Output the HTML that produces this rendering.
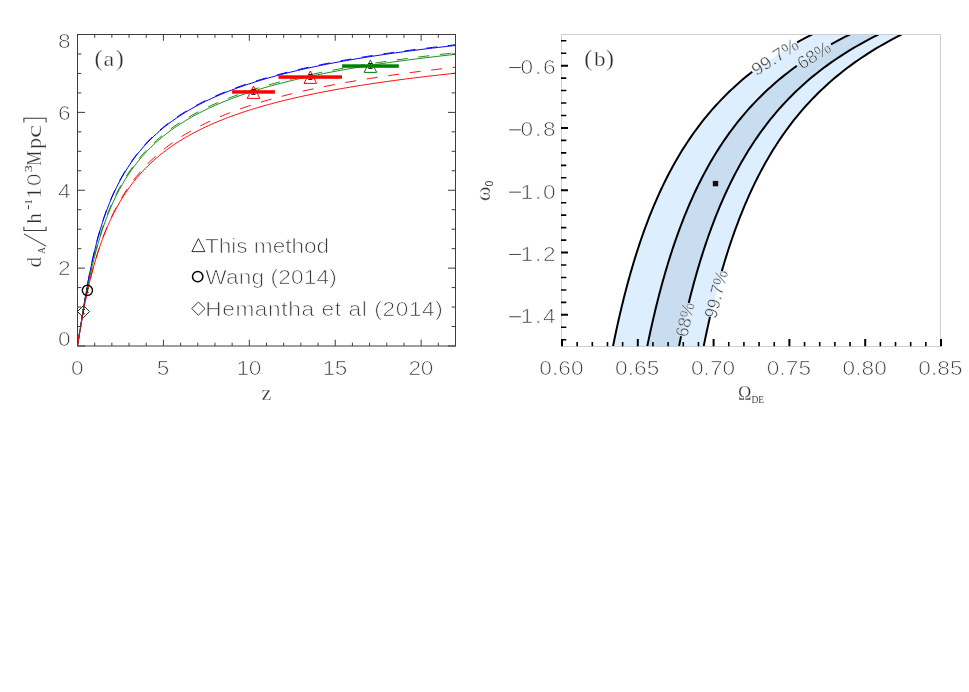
<!DOCTYPE html>
<html><head><meta charset="utf-8"><title>fig</title>
<style>
html,body{margin:0;padding:0;background:#fff;}
body{width:969px;height:692px;overflow:hidden;font-family:"Liberation Sans",sans-serif;}
svg{display:block;will-change:transform;}
.sans{font-family:"Liberation Sans",sans-serif;}
.serif{font-family:"Liberation Serif",serif;}
.tl{font-family:"Liberation Sans",sans-serif;font-size:20.6px;fill:#383838;stroke:#fff;stroke-width:0.7px;}
.sl{font-family:"Liberation Serif",serif;fill:#2e2e2e;stroke:#fff;stroke-width:0.3px;}
.ss{font-family:"Liberation Serif",serif;fill:#444;}
</style></head><body>
<svg width="969" height="692" viewBox="0 0 969 692">
<rect x="0" y="0" width="969" height="692" fill="#fff"/>

<g id="chartA">
<clipPath id="clipA"><rect x="77.50" y="34.50" width="378.00" height="311.50"/></clipPath>
<g clip-path="url(#clipA)" fill="none" stroke-linejoin="round">
<path d="M77.50 345.80 L78.36 340.77 L79.22 335.57 L80.08 330.23 L80.94 324.82 L81.80 319.38 L82.65 313.96 L83.51 308.59 L84.37 303.31 L85.23 298.13 L86.09 293.08 L86.95 288.17 L87.81 283.41 L88.67 278.79 L89.53 274.33 L90.39 270.01 L91.25 265.85 L92.10 261.82 L92.96 257.93 L93.82 254.18 L94.68 250.55 L95.54 247.05 L96.40 243.66 L97.26 240.38 L98.12 237.21 L98.98 234.14 L99.84 231.16 L100.70 228.28 L101.55 225.48 L102.41 222.77 L103.27 220.14 L104.13 217.59 L104.99 215.10 L105.85 212.69 L106.71 210.34 L107.57 208.06 L108.43 205.83 L109.29 203.67 L110.15 201.56 L111.00 199.50 L111.86 197.50 L113.58 193.64 L116.46 187.57 L119.33 181.95 L122.20 176.73 L125.07 171.86 L127.95 167.30 L130.82 163.03 L133.69 159.00 L136.57 155.21 L139.44 151.62 L142.31 148.23 L145.19 145.01 L148.06 141.94 L150.93 139.03 L153.81 136.25 L156.68 133.59 L159.55 131.06 L162.43 128.62 L165.30 126.29 L168.17 124.06 L171.05 121.91 L173.92 119.84 L176.79 117.85 L179.67 115.94 L182.54 114.09 L185.41 112.30 L188.29 110.58 L191.16 108.91 L194.03 107.29 L196.91 105.73 L199.78 104.22 L202.65 102.75 L205.53 101.32 L208.40 99.94 L211.27 98.60 L214.15 97.29 L217.02 96.03 L219.89 94.79 L222.77 93.59 L225.64 92.42 L228.51 91.28 L231.39 90.17 L234.26 89.08 L237.13 88.03 L240.01 87.00 L242.88 85.99 L245.75 85.00 L248.63 84.04 L251.50 83.10 L254.37 82.19 L257.24 81.29 L260.12 80.41 L262.99 79.55 L265.86 78.71 L268.74 77.88 L271.61 77.08 L274.48 76.28 L277.36 75.51 L280.23 74.75 L283.10 74.00 L285.98 73.27 L288.85 72.55 L291.72 71.85 L294.60 71.16 L297.47 70.48 L300.34 69.81 L303.22 69.16 L306.09 68.52 L308.96 67.89 L311.84 67.27 L314.71 66.66 L317.58 66.06 L320.46 65.47 L323.33 64.88 L326.20 64.31 L329.08 63.75 L331.95 63.20 L334.82 62.66 L337.70 62.12 L340.57 61.59 L343.44 61.07 L346.32 60.56 L349.19 60.06 L352.06 59.56 L354.94 59.07 L357.81 58.59 L360.68 58.12 L363.56 57.65 L366.43 57.19 L369.30 56.73 L372.18 56.28 L375.05 55.84 L377.92 55.40 L380.80 54.97 L383.67 54.55 L386.54 54.13 L389.41 53.71 L392.29 53.30 L395.16 52.90 L398.03 52.50 L400.91 52.11 L403.78 51.72 L406.65 51.34 L409.53 50.96 L412.40 50.59 L415.27 50.22 L418.15 49.85 L421.02 49.49 L423.89 49.14 L426.77 48.78 L429.64 48.44 L432.51 48.09 L435.39 47.75 L438.26 47.42 L441.13 47.08 L444.01 46.76 L446.88 46.43 L449.75 46.11 L452.63 45.79 L455.50 45.48" stroke="#0000ff" stroke-width="1.0"/>
<path d="M77.50 345.10 L78.36 340.07 L79.22 334.87 L80.08 329.53 L80.94 324.12 L81.80 318.68 L82.65 313.26 L83.51 307.89 L84.37 302.61 L85.23 297.43 L86.09 292.38 L86.95 287.47 L87.81 282.71 L88.67 278.09 L89.53 273.63 L90.39 269.31 L91.25 265.15 L92.10 261.12 L92.96 257.23 L93.82 253.48 L94.68 249.85 L95.54 246.35 L96.40 242.96 L97.26 239.68 L98.12 236.51 L98.98 233.44 L99.84 230.46 L100.70 227.58 L101.55 224.78 L102.41 222.07 L103.27 219.44 L104.13 216.89 L104.99 214.40 L105.85 211.99 L106.71 209.64 L107.57 207.36 L108.43 205.13 L109.29 202.97 L110.15 200.86 L111.00 198.80 L111.86 196.80 L113.58 192.94 L116.46 186.87 L119.33 181.25 L122.20 176.03 L125.07 171.16 L127.95 166.60 L130.82 162.33 L133.69 158.30 L136.57 154.51 L139.44 150.92 L142.31 147.53 L145.19 144.31 L148.06 141.24 L150.93 138.33 L153.81 135.55 L156.68 132.89 L159.55 130.36 L162.43 127.92 L165.30 125.59 L168.17 123.36 L171.05 121.21 L173.92 119.14 L176.79 117.15 L179.67 115.24 L182.54 113.39 L185.41 111.60 L188.29 109.88 L191.16 108.21 L194.03 106.59 L196.91 105.03 L199.78 103.52 L202.65 102.05 L205.53 100.62 L208.40 99.24 L211.27 97.90 L214.15 96.59 L217.02 95.33 L219.89 94.09 L222.77 92.89 L225.64 91.72 L228.51 90.58 L231.39 89.47 L234.26 88.38 L237.13 87.33 L240.01 86.30 L242.88 85.29 L245.75 84.30 L248.63 83.34 L251.50 82.40 L254.37 81.49 L257.24 80.59 L260.12 79.71 L262.99 78.85 L265.86 78.01 L268.74 77.18 L271.61 76.38 L274.48 75.58 L277.36 74.81 L280.23 74.05 L283.10 73.30 L285.98 72.57 L288.85 71.85 L291.72 71.15 L294.60 70.46 L297.47 69.78 L300.34 69.11 L303.22 68.46 L306.09 67.82 L308.96 67.19 L311.84 66.57 L314.71 65.96 L317.58 65.36 L320.46 64.77 L323.33 64.18 L326.20 63.61 L329.08 63.05 L331.95 62.50 L334.82 61.96 L337.70 61.42 L340.57 60.89 L343.44 60.37 L346.32 59.86 L349.19 59.36 L352.06 58.86 L354.94 58.37 L357.81 57.89 L360.68 57.42 L363.56 56.95 L366.43 56.49 L369.30 56.03 L372.18 55.58 L375.05 55.14 L377.92 54.70 L380.80 54.27 L383.67 53.85 L386.54 53.43 L389.41 53.01 L392.29 52.60 L395.16 52.20 L398.03 51.80 L400.91 51.41 L403.78 51.02 L406.65 50.64 L409.53 50.26 L412.40 49.89 L415.27 49.52 L418.15 49.15 L421.02 48.79 L423.89 48.44 L426.77 48.08 L429.64 47.74 L432.51 47.39 L435.39 47.05 L438.26 46.72 L441.13 46.38 L444.01 46.06 L446.88 45.73 L449.75 45.41 L452.63 45.09 L455.50 44.78" stroke="#0000ff" stroke-width="1.0" stroke-dasharray="11 10.7" stroke-dashoffset="3"/>
<path d="M77.50 345.80 L78.36 340.46 L79.22 335.15 L80.08 329.89 L80.94 324.68 L81.80 319.55 L82.65 314.51 L83.51 309.57 L84.37 304.74 L85.23 300.02 L86.09 295.43 L86.95 290.95 L87.81 286.60 L88.67 282.38 L89.53 278.27 L90.39 274.29 L91.25 270.43 L92.10 266.68 L92.96 263.05 L93.82 259.53 L94.68 256.11 L95.54 252.80 L96.40 249.59 L97.26 246.47 L98.12 243.44 L98.98 240.50 L99.84 237.65 L100.70 234.88 L101.55 232.18 L102.41 229.56 L103.27 227.02 L104.13 224.54 L104.99 222.13 L105.85 219.78 L106.71 217.50 L107.57 215.27 L108.43 213.10 L109.29 210.99 L110.15 208.92 L111.00 206.91 L111.86 204.95 L113.58 201.15 L116.46 195.20 L119.33 189.67 L122.20 184.52 L125.07 179.71 L127.95 175.20 L130.82 170.98 L133.69 166.99 L136.57 163.24 L139.44 159.69 L142.31 156.32 L145.19 153.13 L148.06 150.10 L150.93 147.21 L153.81 144.45 L156.68 141.82 L159.55 139.30 L162.43 136.89 L165.30 134.57 L168.17 132.36 L171.05 130.22 L173.92 128.17 L176.79 126.20 L179.67 124.29 L182.54 122.46 L185.41 120.69 L188.29 118.97 L191.16 117.32 L194.03 115.72 L196.91 114.17 L199.78 112.66 L202.65 111.21 L205.53 109.79 L208.40 108.42 L211.27 107.09 L214.15 105.79 L217.02 104.53 L219.89 103.30 L222.77 102.11 L225.64 100.95 L228.51 99.82 L231.39 98.71 L234.26 97.64 L237.13 96.59 L240.01 95.56 L242.88 94.56 L245.75 93.59 L248.63 92.63 L251.50 91.70 L254.37 90.79 L257.24 89.90 L260.12 89.02 L262.99 88.17 L265.86 87.34 L268.74 86.52 L271.61 85.71 L274.48 84.93 L277.36 84.16 L280.23 83.40 L283.10 82.66 L285.98 81.94 L288.85 81.23 L291.72 80.53 L294.60 79.84 L297.47 79.17 L300.34 78.51 L303.22 77.86 L306.09 77.22 L308.96 76.59 L311.84 75.97 L314.71 75.37 L317.58 74.77 L320.46 74.19 L323.33 73.61 L326.20 73.04 L329.08 72.49 L331.95 71.94 L334.82 71.40 L337.70 70.86 L340.57 70.34 L343.44 69.83 L346.32 69.32 L349.19 68.82 L352.06 68.32 L354.94 67.84 L357.81 67.36 L360.68 66.89 L363.56 66.42 L366.43 65.97 L369.30 65.51 L372.18 65.07 L375.05 64.63 L377.92 64.19 L380.80 63.77 L383.67 63.34 L386.54 62.93 L389.41 62.52 L392.29 62.11 L395.16 61.71 L398.03 61.32 L400.91 60.93 L403.78 60.54 L406.65 60.16 L409.53 59.78 L412.40 59.41 L415.27 59.05 L418.15 58.68 L421.02 58.33 L423.89 57.97 L426.77 57.62 L429.64 57.28 L432.51 56.93 L435.39 56.60 L438.26 56.26 L441.13 55.93 L444.01 55.61 L446.88 55.29 L449.75 54.97 L452.63 54.65 L455.50 54.34" stroke="#008000" stroke-width="0.9"/>
<path d="M77.50 344.20 L78.36 338.86 L79.22 333.55 L80.08 328.29 L80.94 323.08 L81.80 317.95 L82.65 312.91 L83.51 307.97 L84.37 303.14 L85.23 298.42 L86.09 293.83 L86.95 289.35 L87.81 285.00 L88.67 280.78 L89.53 276.67 L90.39 272.69 L91.25 268.83 L92.10 265.08 L92.96 261.45 L93.82 257.93 L94.68 254.51 L95.54 251.20 L96.40 247.99 L97.26 244.87 L98.12 241.84 L98.98 238.90 L99.84 236.05 L100.70 233.28 L101.55 230.58 L102.41 227.96 L103.27 225.42 L104.13 222.94 L104.99 220.53 L105.85 218.18 L106.71 215.90 L107.57 213.67 L108.43 211.50 L109.29 209.39 L110.15 207.32 L111.00 205.31 L111.86 203.35 L113.58 199.55 L116.46 193.60 L119.33 188.07 L122.20 182.92 L125.07 178.11 L127.95 173.60 L130.82 169.38 L133.69 165.39 L136.57 161.64 L139.44 158.09 L142.31 154.72 L145.19 151.53 L148.06 148.50 L150.93 145.61 L153.81 142.85 L156.68 140.22 L159.55 137.70 L162.43 135.29 L165.30 132.97 L168.17 130.76 L171.05 128.62 L173.92 126.57 L176.79 124.60 L179.67 122.69 L182.54 120.86 L185.41 119.09 L188.29 117.37 L191.16 115.72 L194.03 114.12 L196.91 112.57 L199.78 111.06 L202.65 109.61 L205.53 108.19 L208.40 106.82 L211.27 105.49 L214.15 104.19 L217.02 102.93 L219.89 101.70 L222.77 100.51 L225.64 99.35 L228.51 98.22 L231.39 97.11 L234.26 96.04 L237.13 94.99 L240.01 93.96 L242.88 92.96 L245.75 91.99 L248.63 91.03 L251.50 90.10 L254.37 89.19 L257.24 88.30 L260.12 87.42 L262.99 86.57 L265.86 85.74 L268.74 84.92 L271.61 84.11 L274.48 83.33 L277.36 82.56 L280.23 81.80 L283.10 81.06 L285.98 80.34 L288.85 79.63 L291.72 78.93 L294.60 78.24 L297.47 77.57 L300.34 76.91 L303.22 76.26 L306.09 75.62 L308.96 74.99 L311.84 74.37 L314.71 73.77 L317.58 73.17 L320.46 72.59 L323.33 72.01 L326.20 71.44 L329.08 70.89 L331.95 70.34 L334.82 69.80 L337.70 69.26 L340.57 68.74 L343.44 68.23 L346.32 67.72 L349.19 67.22 L352.06 66.72 L354.94 66.24 L357.81 65.76 L360.68 65.29 L363.56 64.82 L366.43 64.37 L369.30 63.91 L372.18 63.47 L375.05 63.03 L377.92 62.59 L380.80 62.17 L383.67 61.74 L386.54 61.33 L389.41 60.92 L392.29 60.51 L395.16 60.11 L398.03 59.72 L400.91 59.33 L403.78 58.94 L406.65 58.56 L409.53 58.18 L412.40 57.81 L415.27 57.45 L418.15 57.08 L421.02 56.73 L423.89 56.37 L426.77 56.02 L429.64 55.68 L432.51 55.33 L435.39 55.00 L438.26 54.66 L441.13 54.33 L444.01 54.01 L446.88 53.69 L449.75 53.37 L452.63 53.05 L455.50 52.74" stroke="#008000" stroke-width="0.9" stroke-dasharray="11 10.7" stroke-dashoffset="19.1"/>
<path d="M77.50 345.80 L78.36 340.18 L79.22 334.76 L80.08 329.53 L80.94 324.48 L81.80 319.60 L82.65 314.89 L83.51 310.34 L84.37 305.94 L85.23 301.69 L86.09 297.58 L86.95 293.60 L87.81 289.75 L88.67 286.02 L89.53 282.41 L90.39 278.90 L91.25 275.51 L92.10 272.22 L92.96 269.03 L93.82 265.93 L94.68 262.92 L95.54 260.00 L96.40 257.16 L97.26 254.40 L98.12 251.71 L98.98 249.10 L99.84 246.56 L100.70 244.09 L101.55 241.68 L102.41 239.33 L103.27 237.05 L104.13 234.82 L104.99 232.65 L105.85 230.52 L106.71 228.46 L107.57 226.44 L108.43 224.46 L109.29 222.54 L110.15 220.65 L111.00 218.81 L111.86 217.02 L113.58 213.54 L116.46 208.05 L119.33 202.92 L122.20 198.14 L125.07 193.65 L127.95 189.43 L130.82 185.46 L133.69 181.71 L136.57 178.16 L139.44 174.80 L142.31 171.61 L145.19 168.58 L148.06 165.69 L150.93 162.93 L153.81 160.30 L156.68 157.79 L159.55 155.38 L162.43 153.07 L165.30 150.85 L168.17 148.72 L171.05 146.68 L173.92 144.71 L176.79 142.81 L179.67 140.98 L182.54 139.21 L185.41 137.51 L188.29 135.86 L191.16 134.26 L194.03 132.71 L196.91 131.22 L199.78 129.77 L202.65 128.36 L205.53 127.00 L208.40 125.67 L211.27 124.38 L214.15 123.13 L217.02 121.91 L219.89 120.72 L222.77 119.57 L225.64 118.45 L228.51 117.35 L231.39 116.28 L234.26 115.24 L237.13 114.23 L240.01 113.23 L242.88 112.26 L245.75 111.32 L248.63 110.39 L251.50 109.49 L254.37 108.61 L257.24 107.74 L260.12 106.90 L262.99 106.07 L265.86 105.26 L268.74 104.46 L271.61 103.69 L274.48 102.92 L277.36 102.18 L280.23 101.44 L283.10 100.73 L285.98 100.02 L288.85 99.33 L291.72 98.65 L294.60 97.99 L297.47 97.33 L300.34 96.69 L303.22 96.06 L306.09 95.44 L308.96 94.83 L311.84 94.23 L314.71 93.65 L317.58 93.07 L320.46 92.50 L323.33 91.94 L326.20 91.39 L329.08 90.85 L331.95 90.31 L334.82 89.79 L337.70 89.27 L340.57 88.76 L343.44 88.26 L346.32 87.77 L349.19 87.28 L352.06 86.81 L354.94 86.33 L357.81 85.87 L360.68 85.41 L363.56 84.96 L366.43 84.51 L369.30 84.07 L372.18 83.64 L375.05 83.21 L377.92 82.79 L380.80 82.38 L383.67 81.97 L386.54 81.56 L389.41 81.16 L392.29 80.77 L395.16 80.38 L398.03 80.00 L400.91 79.62 L403.78 79.24 L406.65 78.87 L409.53 78.51 L412.40 78.15 L415.27 77.79 L418.15 77.44 L421.02 77.09 L423.89 76.75 L426.77 76.41 L429.64 76.07 L432.51 75.74 L435.39 75.41 L438.26 75.09 L441.13 74.76 L444.01 74.45 L446.88 74.13 L449.75 73.82 L452.63 73.52 L455.50 73.21" stroke="#ff0000" stroke-width="0.95"/>
<path d="M77.50 345.80 L78.36 340.17 L79.22 334.74 L80.08 329.51 L80.94 324.46 L81.80 319.58 L82.65 314.88 L83.51 310.33 L84.37 305.93 L85.23 301.68 L86.09 297.56 L86.95 293.58 L87.81 289.72 L88.67 285.98 L89.53 282.36 L90.39 278.84 L91.25 275.43 L92.10 272.13 L92.96 268.91 L93.82 265.80 L94.68 262.76 L95.54 259.82 L96.40 256.95 L97.26 254.17 L98.12 251.45 L98.98 248.81 L99.84 246.24 L100.70 243.74 L101.55 241.30 L102.41 238.92 L103.27 236.60 L104.13 234.33 L104.99 232.12 L105.85 229.97 L106.71 227.86 L107.57 225.81 L108.43 223.80 L109.29 221.83 L110.15 219.91 L111.00 218.04 L111.86 216.20 L113.58 212.65 L116.46 207.03 L119.33 201.79 L122.20 196.87 L125.07 192.26 L127.95 187.93 L130.82 183.84 L133.69 179.97 L136.57 176.32 L139.44 172.85 L142.31 169.56 L145.19 166.42 L148.06 163.44 L150.93 160.59 L153.81 157.87 L156.68 155.26 L159.55 152.77 L162.43 150.37 L165.30 148.08 L168.17 145.87 L171.05 143.75 L173.92 141.70 L176.79 139.73 L179.67 137.83 L182.54 135.99 L185.41 134.22 L188.29 132.51 L191.16 130.85 L194.03 129.24 L196.91 127.69 L199.78 126.18 L202.65 124.72 L205.53 123.30 L208.40 121.92 L211.27 120.58 L214.15 119.27 L217.02 118.00 L219.89 116.77 L222.77 115.57 L225.64 114.40 L228.51 113.26 L231.39 112.15 L234.26 111.06 L237.13 110.00 L240.01 108.97 L242.88 107.96 L245.75 106.98 L248.63 106.01 L251.50 105.07 L254.37 104.15 L257.24 103.25 L260.12 102.37 L262.99 101.50 L265.86 100.66 L268.74 99.83 L271.61 99.02 L274.48 98.23 L277.36 97.45 L280.23 96.69 L283.10 95.94 L285.98 95.20 L288.85 94.48 L291.72 93.77 L294.60 93.08 L297.47 92.40 L300.34 91.73 L303.22 91.07 L306.09 90.42 L308.96 89.79 L311.84 89.17 L314.71 88.55 L317.58 87.95 L320.46 87.36 L323.33 86.77 L326.20 86.20 L329.08 85.63 L331.95 85.08 L334.82 84.53 L337.70 83.99 L340.57 83.46 L343.44 82.94 L346.32 82.42 L349.19 81.92 L352.06 81.42 L354.94 80.92 L357.81 80.44 L360.68 79.96 L363.56 79.49 L366.43 79.02 L369.30 78.57 L372.18 78.11 L375.05 77.67 L377.92 77.23 L380.80 76.80 L383.67 76.37 L386.54 75.95 L389.41 75.53 L392.29 75.12 L395.16 74.71 L398.03 74.31 L400.91 73.91 L403.78 73.52 L406.65 73.14 L409.53 72.76 L412.40 72.38 L415.27 72.01 L418.15 71.64 L421.02 71.28 L423.89 70.92 L426.77 70.56 L429.64 70.21 L432.51 69.87 L435.39 69.52 L438.26 69.18 L441.13 68.85 L444.01 68.52 L446.88 68.19 L449.75 67.87 L452.63 67.55 L455.50 67.23" stroke="#ff0000" stroke-width="0.95" stroke-dasharray="11 10.7" stroke-dashoffset="18.7"/>
</g>
<g stroke="#3c3c3c" stroke-width="1" fill="none">
<rect x="77.50" y="34.50" width="378.00" height="311.50"/>
<path d="M77.50 346.00v-6.30M77.50 34.50v6.30M94.68 346.00v-3.30M94.68 34.50v3.30M111.86 346.00v-3.30M111.86 34.50v3.30M129.05 346.00v-3.30M129.05 34.50v3.30M146.23 346.00v-3.30M146.23 34.50v3.30M163.41 346.00v-6.30M163.41 34.50v6.30M180.59 346.00v-3.30M180.59 34.50v3.30M197.77 346.00v-3.30M197.77 34.50v3.30M214.95 346.00v-3.30M214.95 34.50v3.30M232.14 346.00v-3.30M232.14 34.50v3.30M249.32 346.00v-6.30M249.32 34.50v6.30M266.50 346.00v-3.30M266.50 34.50v3.30M283.68 346.00v-3.30M283.68 34.50v3.30M300.86 346.00v-3.30M300.86 34.50v3.30M318.05 346.00v-3.30M318.05 34.50v3.30M335.23 346.00v-6.30M335.23 34.50v6.30M352.41 346.00v-3.30M352.41 34.50v3.30M369.59 346.00v-3.30M369.59 34.50v3.30M386.77 346.00v-3.30M386.77 34.50v3.30M403.95 346.00v-3.30M403.95 34.50v3.30M421.14 346.00v-6.30M421.14 34.50v6.30M438.32 346.00v-3.30M438.32 34.50v3.30M455.50 346.00v-3.30M455.50 34.50v3.30M77.50 346.00h7.50M455.50 346.00h-7.50M77.50 326.53h3.80M455.50 326.53h-3.80M77.50 307.06h3.80M455.50 307.06h-3.80M77.50 287.59h3.80M455.50 287.59h-3.80M77.50 268.12h7.50M455.50 268.12h-7.50M77.50 248.66h3.80M455.50 248.66h-3.80M77.50 229.19h3.80M455.50 229.19h-3.80M77.50 209.72h3.80M455.50 209.72h-3.80M77.50 190.25h7.50M455.50 190.25h-7.50M77.50 170.78h3.80M455.50 170.78h-3.80M77.50 151.31h3.80M455.50 151.31h-3.80M77.50 131.84h3.80M455.50 131.84h-3.80M77.50 112.38h7.50M455.50 112.38h-7.50M77.50 92.91h3.80M455.50 92.91h-3.80M77.50 73.44h3.80M455.50 73.44h-3.80M77.50 53.97h3.80M455.50 53.97h-3.80M77.50 34.50h7.50M455.50 34.50h-7.50"/>
</g>
<text class="tl" transform="translate(70.90,375.00) scale(1.100,1)">0</text>
<text class="tl" transform="translate(156.81,375.00) scale(1.100,1)">5</text>
<text class="tl" transform="translate(236.62,375.00) scale(1.100,1)" textLength="22.55" lengthAdjust="spacing">10</text>
<text class="tl" transform="translate(322.53,375.00) scale(1.100,1)" textLength="22.55" lengthAdjust="spacing">15</text>
<text class="tl" transform="translate(408.44,375.00) scale(1.100,1)" textLength="22.55" lengthAdjust="spacing">20</text>
<text class="tl" transform="translate(58.00,346.00) scale(1.100,1)">0</text>
<text class="tl" transform="translate(58.00,275.43) scale(1.100,1)">2</text>
<text class="tl" transform="translate(58.00,197.55) scale(1.100,1)">4</text>
<text class="tl" transform="translate(58.00,119.67) scale(1.100,1)">6</text>
<text class="tl" transform="translate(58.00,48.40) scale(1.100,1)">8</text>
<text class="sl" x="266.3" y="400.2" style="font-size:22px" text-anchor="middle">z</text>
<text class="sl" transform="translate(94.40,65.90) scale(1.000,1)" style="font-size:24px;">(</text>
<text class="sl" transform="translate(103.60,65.70) scale(1.130,1)" style="font-size:21.5px;">a</text>
<text class="sl" transform="translate(115.80,65.90) scale(1.000,1)" style="font-size:24px;">)</text>
<text class="sl" transform="translate(41.4,266.9) rotate(-90) translate(-0.50,0.00) scale(1.000,1)" style="font-size:21.5px;">d</text>
<text class="ss" transform="translate(41.4,266.9) rotate(-90) translate(13.20,3.30) scale(0.800,1)" style="font-size:11.4px;">A</text>
<path transform="translate(41.4,266.9) rotate(-90)" d="M20.8 4.7L33 -17.5M40.2 -17.5H36.4V4.7H40.2M144.5 -17.5H148.6V4.7H144.5M57.6 -12.9H61.6" fill="none" stroke="#3a3a3a" stroke-width="1.05"/>
<text class="sl" transform="translate(41.4,266.9) rotate(-90) translate(43.20,0.00) scale(1.000,1)" style="font-size:21.5px;">h</text>
<text class="ss" transform="translate(41.4,266.9) rotate(-90) translate(62.40,-9.40) scale(1.000,1)" style="font-size:10.5px;">1</text>
<text class="sl" transform="translate(41.4,266.9) rotate(-90) translate(68.70,0.00) scale(1.000,1)" style="font-size:21.5px;">1</text>
<text class="tl" transform="translate(41.4,266.9) rotate(-90) translate(80.80,0.00) scale(1.117,1)" style="font-size:20px;">0</text>
<text class="ss" transform="translate(41.4,266.9) rotate(-90) translate(94.70,-9.40) scale(1.370,1)" style="font-size:10.5px;">3</text>
<text class="sl" transform="translate(41.4,266.9) rotate(-90) translate(101.20,0.00) scale(0.785,1)" style="font-size:21.5px;">M</text>
<text class="sl" transform="translate(41.4,266.9) rotate(-90) translate(118.10,0.00) scale(1.000,1)" style="font-size:21.5px;">p</text>
<text class="sl" transform="translate(41.4,266.9) rotate(-90) translate(129.00,0.00) scale(1.380,1)" style="font-size:21.5px;">c</text>
<g fill="none" stroke="#333" stroke-width="1">
<path d="M191.9 251.6L198.4 238.6L204.9 251.6Z"/>
<circle cx="197.7" cy="276.6" r="5.2" stroke="#000" stroke-width="1.5"/>
<path d="M191.8 308.6L198.4 302.0L205.0 308.6L198.4 315.2Z"/>
</g>
<text class="tl" transform="translate(204.90,253.00) scale(1.100,1)" textLength="113.00" lengthAdjust="spacing">This method</text>
<text class="tl" transform="translate(205.30,284.10) scale(1.100,1)" textLength="119.55" lengthAdjust="spacing">Wang (2014)</text>
<text class="tl" transform="translate(205.20,315.70) scale(1.100,1)" textLength="216.09" lengthAdjust="spacing">Hemantha et al (2014)</text>
<circle cx="87.4" cy="290.3" r="5.1" fill="none" stroke="#000" stroke-width="1.4"/>
<path d="M87.4 288.3V292.3M85.9 288.3H88.9M85.9 292.3H88.9" stroke="#222" stroke-width="0.9" fill="none"/>
<path d="M77.5 311.6L83.5 305.6L89.5 311.6L83.5 317.6Z" fill="none" stroke="#222" stroke-width="1"/>
<path d="M83.5 309.4V313.8M82 309.4H85M82 313.8H85" stroke="#222" stroke-width="0.9" fill="none"/>
<path d="M247.2 98.4L253.5 86.1L259.8 98.4Z" fill="none" stroke="#ff0000" stroke-width="1"/>
<path d="M253.5 89.6V94.4M251.4 89.6H255.6M251.4 94.4H255.6" stroke="#111" stroke-width="1" fill="none"/>
<rect x="232.1" y="90.2" width="42.8" height="3.5" fill="#ff0000"/>
<path d="M304.0 83.4L310.3 71.1L316.6 83.4Z" fill="none" stroke="#ff0000" stroke-width="1"/>
<path d="M310.3 74.6V79.4M308.2 74.6H312.4M308.2 79.4H312.4" stroke="#111" stroke-width="1" fill="none"/>
<rect x="278.5" y="75.3" width="63.5" height="3.5" fill="#ff0000"/>
<path d="M364.1 72.4L370.4 60.1L376.7 72.4Z" fill="none" stroke="#008000" stroke-width="1"/>
<path d="M370.4 63.6V68.4M368.3 63.6H372.5M368.3 68.4H372.5" stroke="#111" stroke-width="1" fill="none"/>
<rect x="342.1" y="64.3" width="56.7" height="3.5" fill="#008000"/>
</g>
<g id="chartB">
<clipPath id="clipB"><rect x="561.50" y="34.50" width="379.00" height="311.50"/></clipPath>
<g clip-path="url(#clipB)">
<path d="M812.15 34.50 L808.24 36.46 L804.43 38.42 L800.73 40.38 L797.11 42.34 L752.24 71.72 L749.76 73.68 L747.33 75.64 L744.95 77.60 L742.62 79.56 L740.35 81.52 L738.11 83.48 L735.92 85.44 L733.78 87.40 L731.68 89.36 L729.62 91.31 L727.59 93.27 L725.61 95.23 L723.67 97.19 L721.76 99.15 L719.89 101.11 L718.05 103.07 L716.25 105.03 L714.48 106.99 L712.74 108.95 L711.03 110.91 L709.35 112.86 L707.70 114.82 L706.08 116.78 L704.49 118.74 L702.93 120.70 L701.39 122.66 L699.88 124.62 L698.39 126.58 L696.93 128.54 L695.49 130.50 L694.08 132.46 L692.69 134.42 L691.32 136.37 L689.97 138.33 L688.64 140.29 L687.34 142.25 L686.05 144.21 L684.79 146.17 L683.54 148.13 L682.31 150.09 L681.10 152.05 L679.91 154.01 L678.74 155.97 L677.58 157.92 L676.45 159.88 L675.32 161.84 L674.22 163.80 L673.13 165.76 L672.05 167.72 L670.99 169.68 L669.95 171.64 L668.92 173.60 L667.90 175.56 L666.90 177.52 L665.91 179.47 L664.94 181.43 L663.98 183.39 L663.03 185.35 L662.09 187.31 L661.17 189.27 L660.25 191.23 L659.35 193.19 L658.46 195.15 L657.59 197.11 L656.72 199.07 L655.87 201.03 L655.02 202.98 L654.19 204.94 L653.37 206.90 L652.55 208.86 L651.75 210.82 L650.96 212.78 L650.17 214.74 L649.40 216.70 L648.63 218.66 L647.88 220.62 L647.13 222.58 L646.39 224.53 L645.66 226.49 L644.94 228.45 L644.23 230.41 L643.52 232.37 L642.83 234.33 L642.14 236.29 L641.46 238.25 L640.78 240.21 L640.12 242.17 L639.46 244.13 L638.81 246.08 L638.17 248.04 L637.53 250.00 L636.90 251.96 L636.28 253.92 L635.66 255.88 L635.05 257.84 L634.45 259.80 L633.85 261.76 L633.26 263.72 L632.67 265.68 L632.10 267.64 L631.52 269.59 L630.96 271.55 L630.40 273.51 L629.84 275.47 L629.29 277.43 L628.75 279.39 L628.21 281.35 L627.68 283.31 L627.15 285.27 L626.63 287.23 L626.11 289.19 L625.60 291.14 L625.09 293.10 L624.59 295.06 L624.09 297.02 L623.60 298.98 L623.11 300.94 L622.62 302.90 L622.15 304.86 L621.67 306.82 L621.20 308.78 L620.74 310.74 L620.27 312.69 L619.82 314.65 L619.36 316.61 L618.92 318.57 L618.47 320.53 L618.03 322.49 L617.59 324.45 L617.16 326.41 L616.73 328.37 L616.31 330.33 L615.89 332.29 L615.47 334.25 L615.06 336.20 L614.65 338.16 L614.24 340.12 L613.84 342.08 L613.44 344.04 L613.04 346.00 L703.72 346.00 L704.12 344.04 L704.52 342.08 L704.92 340.12 L705.33 338.16 L705.74 336.20 L706.16 334.25 L706.58 332.29 L707.00 330.33 L707.43 328.37 L707.86 326.41 L708.29 324.45 L708.73 322.49 L709.17 320.53 L709.62 318.57 L710.07 316.61 L721.69 271.55 L722.25 269.59 L722.83 267.64 L723.41 265.68 L723.99 263.72 L724.58 261.76 L725.18 259.80 L725.78 257.84 L726.39 255.88 L727.01 253.92 L727.64 251.96 L728.27 250.00 L728.90 248.04 L729.55 246.08 L730.20 244.13 L730.86 242.17 L731.52 240.21 L732.20 238.25 L732.88 236.29 L733.57 234.33 L734.26 232.37 L734.97 230.41 L735.68 228.45 L736.40 226.49 L737.13 224.53 L737.87 222.58 L738.61 220.62 L739.37 218.66 L740.13 216.70 L740.91 214.74 L741.69 212.78 L742.48 210.82 L743.29 208.86 L744.10 206.90 L744.92 204.94 L745.75 202.98 L746.60 201.03 L747.45 199.07 L748.31 197.11 L749.19 195.15 L750.08 193.19 L750.98 191.23 L751.89 189.27 L752.81 187.31 L753.74 185.35 L754.69 183.39 L755.65 181.43 L756.62 179.47 L757.61 177.52 L758.61 175.56 L759.62 173.60 L760.65 171.64 L761.69 169.68 L762.74 167.72 L763.81 165.76 L764.90 163.80 L766.00 161.84 L767.12 159.88 L768.26 157.92 L769.41 155.97 L770.57 154.01 L771.76 152.05 L772.96 150.09 L774.19 148.13 L775.43 146.17 L776.69 144.21 L777.96 142.25 L779.26 140.29 L780.58 138.33 L781.92 136.37 L783.29 134.42 L784.67 132.46 L786.08 130.50 L787.51 128.54 L788.96 126.58 L790.44 124.62 L791.94 122.66 L793.47 120.70 L795.02 118.74 L796.60 116.78 L798.21 114.82 L799.85 112.86 L801.52 110.91 L803.21 108.95 L804.94 106.99 L806.70 105.03 L808.49 103.07 L810.31 101.11 L812.17 99.15 L814.06 97.19 L815.99 95.23 L817.96 93.27 L819.96 91.31 L822.00 89.36 L824.09 87.40 L826.21 85.44 L828.38 83.48 L830.60 81.52 L832.86 79.56 L835.16 77.60 L837.52 75.64 L839.92 73.68 L842.38 71.72 L844.89 69.76 L847.45 67.81 L850.07 65.85 L852.75 63.89 L855.50 61.93 L858.30 59.97 L861.17 58.01 L864.11 56.05 L867.11 54.09 L870.19 52.13 L873.34 50.17 L876.57 48.21 L879.88 46.25 L883.28 44.30 L886.76 42.34 L890.33 40.38 L893.99 38.42 L897.75 36.46 L901.61 34.50 Z" fill="#ddeeff"/>
<path d="M849.91 34.50 L845.93 36.46 L842.06 38.42 L838.28 40.38 L834.61 42.34 L831.02 44.30 L796.85 65.85 L794.16 67.81 L791.52 69.76 L788.94 71.72 L786.42 73.68 L783.94 75.64 L781.53 77.60 L779.16 79.56 L776.84 81.52 L774.56 83.48 L772.34 85.44 L770.16 87.40 L768.02 89.36 L765.92 91.31 L763.86 93.27 L761.85 95.23 L759.87 97.19 L757.93 99.15 L756.02 101.11 L754.15 103.07 L752.32 105.03 L750.52 106.99 L748.75 108.95 L747.01 110.91 L745.30 112.86 L743.62 114.82 L741.98 116.78 L740.36 118.74 L738.77 120.70 L737.20 122.66 L735.66 124.62 L734.15 126.58 L732.66 128.54 L731.20 130.50 L729.76 132.46 L728.35 134.42 L726.95 136.37 L725.58 138.33 L724.23 140.29 L722.90 142.25 L721.60 144.21 L720.31 146.17 L719.04 148.13 L717.79 150.09 L716.56 152.05 L715.35 154.01 L714.16 155.97 L712.98 157.92 L711.83 159.88 L710.68 161.84 L709.56 163.80 L708.45 165.76 L707.36 167.72 L706.28 169.68 L705.22 171.64 L704.17 173.60 L703.13 175.56 L702.11 177.52 L701.11 179.47 L700.12 181.43 L699.14 183.39 L698.17 185.35 L697.22 187.31 L696.28 189.27 L695.35 191.23 L694.44 193.19 L693.53 195.15 L692.64 197.11 L691.76 199.07 L690.89 201.03 L690.03 202.98 L689.18 204.94 L688.35 206.90 L687.52 208.86 L686.70 210.82 L685.90 212.78 L685.10 214.74 L684.31 216.70 L683.53 218.66 L682.76 220.62 L682.00 222.58 L681.25 224.53 L680.51 226.49 L679.78 228.45 L679.05 230.41 L678.33 232.37 L677.63 234.33 L676.93 236.29 L676.23 238.25 L675.55 240.21 L674.87 242.17 L674.20 244.13 L673.54 246.08 L672.88 248.04 L672.24 250.00 L671.60 251.96 L670.96 253.92 L670.34 255.88 L669.72 257.84 L669.10 259.80 L668.49 261.76 L667.89 263.72 L667.30 265.68 L666.71 267.64 L666.13 269.59 L665.55 271.55 L664.98 273.51 L664.42 275.47 L663.86 277.43 L663.30 279.39 L662.76 281.35 L662.21 283.31 L661.68 285.27 L661.15 287.23 L660.62 289.19 L660.10 291.14 L659.58 293.10 L659.07 295.06 L658.56 297.02 L658.06 298.98 L657.57 300.94 L657.08 302.90 L656.59 304.86 L656.11 306.82 L655.63 308.78 L655.15 310.74 L654.68 312.69 L654.22 314.65 L653.76 316.61 L653.30 318.57 L652.85 320.53 L652.40 322.49 L651.96 324.45 L651.52 326.41 L651.08 328.37 L650.65 330.33 L650.22 332.29 L649.80 334.25 L649.37 336.20 L648.96 338.16 L648.54 340.12 L648.13 342.08 L647.73 344.04 L647.32 346.00 L679.06 346.00 L679.46 344.04 L679.86 342.08 L680.27 340.12 L680.68 338.16 L681.09 336.20 L688.72 302.90 L689.21 300.94 L689.70 298.98 L690.19 297.02 L690.69 295.06 L691.20 293.10 L691.71 291.14 L692.23 289.19 L692.75 287.23 L693.27 285.27 L693.81 283.31 L694.34 281.35 L694.88 279.39 L695.43 277.43 L695.99 275.47 L696.54 273.51 L697.11 271.55 L697.68 269.59 L698.26 267.64 L698.84 265.68 L699.43 263.72 L700.02 261.76 L700.62 259.80 L701.23 257.84 L701.84 255.88 L702.46 253.92 L703.09 251.96 L703.72 250.00 L704.36 248.04 L705.01 246.08 L705.67 244.13 L706.33 242.17 L707.00 240.21 L707.67 238.25 L708.36 236.29 L709.05 234.33 L709.75 232.37 L710.46 230.41 L711.18 228.45 L711.90 226.49 L712.64 224.53 L713.38 222.58 L714.13 220.62 L714.89 218.66 L715.66 216.70 L716.43 214.74 L717.22 212.78 L718.02 210.82 L718.83 208.86 L719.64 206.90 L720.47 204.94 L721.31 202.98 L722.16 201.03 L723.02 199.07 L723.89 197.11 L724.77 195.15 L725.66 193.19 L726.56 191.23 L727.48 189.27 L728.41 187.31 L729.35 185.35 L730.30 183.39 L731.27 181.43 L732.24 179.47 L733.24 177.52 L734.24 175.56 L735.26 173.60 L736.30 171.64 L737.34 169.68 L738.41 167.72 L739.49 165.76 L740.58 163.80 L741.69 161.84 L742.82 159.88 L743.96 157.92 L745.12 155.97 L746.29 154.01 L747.49 152.05 L748.70 150.09 L749.93 148.13 L751.18 146.17 L752.45 144.21 L753.74 142.25 L755.05 140.29 L756.38 138.33 L757.73 136.37 L759.10 134.42 L760.49 132.46 L761.91 130.50 L763.35 128.54 L764.82 126.58 L766.31 124.62 L767.82 122.66 L769.36 120.70 L770.93 118.74 L772.52 116.78 L774.14 114.82 L775.79 112.86 L777.47 110.91 L779.18 108.95 L780.92 106.99 L782.70 105.03 L784.50 103.07 L786.34 101.11 L788.22 99.15 L790.12 97.19 L792.07 95.23 L794.05 93.27 L796.08 91.31 L798.14 89.36 L800.24 87.40 L802.39 85.44 L804.57 83.48 L806.81 81.52 L809.09 79.56 L811.41 77.60 L813.79 75.64 L816.22 73.68 L818.70 71.72 L821.23 69.76 L823.82 67.81 L826.47 65.85 L829.17 63.89 L831.94 61.93 L834.77 59.97 L837.67 58.01 L840.63 56.05 L843.67 54.09 L846.78 52.13 L849.96 50.17 L853.23 48.21 L856.57 46.25 L860.00 44.30 L863.52 42.34 L867.12 40.38 L870.82 38.42 L874.62 36.46 L878.52 34.50 Z" fill="#c9ddf0"/>
<path d="M812.15 34.50 L808.24 36.46 L804.43 38.42 L800.73 40.38 L797.11 42.34 M752.24 71.72 L749.76 73.68 L747.33 75.64 L744.95 77.60 L742.62 79.56 L740.35 81.52 L738.11 83.48 L735.92 85.44 L733.78 87.40 L731.68 89.36 L729.62 91.31 L727.59 93.27 L725.61 95.23 L723.67 97.19 L721.76 99.15 L719.89 101.11 L718.05 103.07 L716.25 105.03 L714.48 106.99 L712.74 108.95 L711.03 110.91 L709.35 112.86 L707.70 114.82 L706.08 116.78 L704.49 118.74 L702.93 120.70 L701.39 122.66 L699.88 124.62 L698.39 126.58 L696.93 128.54 L695.49 130.50 L694.08 132.46 L692.69 134.42 L691.32 136.37 L689.97 138.33 L688.64 140.29 L687.34 142.25 L686.05 144.21 L684.79 146.17 L683.54 148.13 L682.31 150.09 L681.10 152.05 L679.91 154.01 L678.74 155.97 L677.58 157.92 L676.45 159.88 L675.32 161.84 L674.22 163.80 L673.13 165.76 L672.05 167.72 L670.99 169.68 L669.95 171.64 L668.92 173.60 L667.90 175.56 L666.90 177.52 L665.91 179.47 L664.94 181.43 L663.98 183.39 L663.03 185.35 L662.09 187.31 L661.17 189.27 L660.25 191.23 L659.35 193.19 L658.46 195.15 L657.59 197.11 L656.72 199.07 L655.87 201.03 L655.02 202.98 L654.19 204.94 L653.37 206.90 L652.55 208.86 L651.75 210.82 L650.96 212.78 L650.17 214.74 L649.40 216.70 L648.63 218.66 L647.88 220.62 L647.13 222.58 L646.39 224.53 L645.66 226.49 L644.94 228.45 L644.23 230.41 L643.52 232.37 L642.83 234.33 L642.14 236.29 L641.46 238.25 L640.78 240.21 L640.12 242.17 L639.46 244.13 L638.81 246.08 L638.17 248.04 L637.53 250.00 L636.90 251.96 L636.28 253.92 L635.66 255.88 L635.05 257.84 L634.45 259.80 L633.85 261.76 L633.26 263.72 L632.67 265.68 L632.10 267.64 L631.52 269.59 L630.96 271.55 L630.40 273.51 L629.84 275.47 L629.29 277.43 L628.75 279.39 L628.21 281.35 L627.68 283.31 L627.15 285.27 L626.63 287.23 L626.11 289.19 L625.60 291.14 L625.09 293.10 L624.59 295.06 L624.09 297.02 L623.60 298.98 L623.11 300.94 L622.62 302.90 L622.15 304.86 L621.67 306.82 L621.20 308.78 L620.74 310.74 L620.27 312.69 L619.82 314.65 L619.36 316.61 L618.92 318.57 L618.47 320.53 L618.03 322.49 L617.59 324.45 L617.16 326.41 L616.73 328.37 L616.31 330.33 L615.89 332.29 L615.47 334.25 L615.06 336.20 L614.65 338.16 L614.24 340.12 L613.84 342.08 L613.44 344.04 L613.04 346.00" fill="none" stroke="#000" stroke-width="2"/>
<path d="M849.91 34.50 L845.93 36.46 L842.06 38.42 L838.28 40.38 L834.61 42.34 L831.02 44.30 M796.85 65.85 L794.16 67.81 L791.52 69.76 L788.94 71.72 L786.42 73.68 L783.94 75.64 L781.53 77.60 L779.16 79.56 L776.84 81.52 L774.56 83.48 L772.34 85.44 L770.16 87.40 L768.02 89.36 L765.92 91.31 L763.86 93.27 L761.85 95.23 L759.87 97.19 L757.93 99.15 L756.02 101.11 L754.15 103.07 L752.32 105.03 L750.52 106.99 L748.75 108.95 L747.01 110.91 L745.30 112.86 L743.62 114.82 L741.98 116.78 L740.36 118.74 L738.77 120.70 L737.20 122.66 L735.66 124.62 L734.15 126.58 L732.66 128.54 L731.20 130.50 L729.76 132.46 L728.35 134.42 L726.95 136.37 L725.58 138.33 L724.23 140.29 L722.90 142.25 L721.60 144.21 L720.31 146.17 L719.04 148.13 L717.79 150.09 L716.56 152.05 L715.35 154.01 L714.16 155.97 L712.98 157.92 L711.83 159.88 L710.68 161.84 L709.56 163.80 L708.45 165.76 L707.36 167.72 L706.28 169.68 L705.22 171.64 L704.17 173.60 L703.13 175.56 L702.11 177.52 L701.11 179.47 L700.12 181.43 L699.14 183.39 L698.17 185.35 L697.22 187.31 L696.28 189.27 L695.35 191.23 L694.44 193.19 L693.53 195.15 L692.64 197.11 L691.76 199.07 L690.89 201.03 L690.03 202.98 L689.18 204.94 L688.35 206.90 L687.52 208.86 L686.70 210.82 L685.90 212.78 L685.10 214.74 L684.31 216.70 L683.53 218.66 L682.76 220.62 L682.00 222.58 L681.25 224.53 L680.51 226.49 L679.78 228.45 L679.05 230.41 L678.33 232.37 L677.63 234.33 L676.93 236.29 L676.23 238.25 L675.55 240.21 L674.87 242.17 L674.20 244.13 L673.54 246.08 L672.88 248.04 L672.24 250.00 L671.60 251.96 L670.96 253.92 L670.34 255.88 L669.72 257.84 L669.10 259.80 L668.49 261.76 L667.89 263.72 L667.30 265.68 L666.71 267.64 L666.13 269.59 L665.55 271.55 L664.98 273.51 L664.42 275.47 L663.86 277.43 L663.30 279.39 L662.76 281.35 L662.21 283.31 L661.68 285.27 L661.15 287.23 L660.62 289.19 L660.10 291.14 L659.58 293.10 L659.07 295.06 L658.56 297.02 L658.06 298.98 L657.57 300.94 L657.08 302.90 L656.59 304.86 L656.11 306.82 L655.63 308.78 L655.15 310.74 L654.68 312.69 L654.22 314.65 L653.76 316.61 L653.30 318.57 L652.85 320.53 L652.40 322.49 L651.96 324.45 L651.52 326.41 L651.08 328.37 L650.65 330.33 L650.22 332.29 L649.80 334.25 L649.37 336.20 L648.96 338.16 L648.54 340.12 L648.13 342.08 L647.73 344.04 L647.32 346.00" fill="none" stroke="#000" stroke-width="2"/>
<path d="M878.52 34.50 L874.62 36.46 L870.82 38.42 L867.12 40.38 L863.52 42.34 L860.00 44.30 L856.57 46.25 L853.23 48.21 L849.96 50.17 L846.78 52.13 L843.67 54.09 L840.63 56.05 L837.67 58.01 L834.77 59.97 L831.94 61.93 L829.17 63.89 L826.47 65.85 L823.82 67.81 L821.23 69.76 L818.70 71.72 L816.22 73.68 L813.79 75.64 L811.41 77.60 L809.09 79.56 L806.81 81.52 L804.57 83.48 L802.39 85.44 L800.24 87.40 L798.14 89.36 L796.08 91.31 L794.05 93.27 L792.07 95.23 L790.12 97.19 L788.22 99.15 L786.34 101.11 L784.50 103.07 L782.70 105.03 L780.92 106.99 L779.18 108.95 L777.47 110.91 L775.79 112.86 L774.14 114.82 L772.52 116.78 L770.93 118.74 L769.36 120.70 L767.82 122.66 L766.31 124.62 L764.82 126.58 L763.35 128.54 L761.91 130.50 L760.49 132.46 L759.10 134.42 L757.73 136.37 L756.38 138.33 L755.05 140.29 L753.74 142.25 L752.45 144.21 L751.18 146.17 L749.93 148.13 L748.70 150.09 L747.49 152.05 L746.29 154.01 L745.12 155.97 L743.96 157.92 L742.82 159.88 L741.69 161.84 L740.58 163.80 L739.49 165.76 L738.41 167.72 L737.34 169.68 L736.30 171.64 L735.26 173.60 L734.24 175.56 L733.24 177.52 L732.24 179.47 L731.27 181.43 L730.30 183.39 L729.35 185.35 L728.41 187.31 L727.48 189.27 L726.56 191.23 L725.66 193.19 L724.77 195.15 L723.89 197.11 L723.02 199.07 L722.16 201.03 L721.31 202.98 L720.47 204.94 L719.64 206.90 L718.83 208.86 L718.02 210.82 L717.22 212.78 L716.43 214.74 L715.66 216.70 L714.89 218.66 L714.13 220.62 L713.38 222.58 L712.64 224.53 L711.90 226.49 L711.18 228.45 L710.46 230.41 L709.75 232.37 L709.05 234.33 L708.36 236.29 L707.67 238.25 L707.00 240.21 L706.33 242.17 L705.67 244.13 L705.01 246.08 L704.36 248.04 L703.72 250.00 L703.09 251.96 L702.46 253.92 L701.84 255.88 L701.23 257.84 L700.62 259.80 L700.02 261.76 L699.43 263.72 L698.84 265.68 L698.26 267.64 L697.68 269.59 L697.11 271.55 L696.54 273.51 L695.99 275.47 L695.43 277.43 L694.88 279.39 L694.34 281.35 L693.81 283.31 L693.27 285.27 L692.75 287.23 L692.23 289.19 L691.71 291.14 L691.20 293.10 L690.69 295.06 L690.19 297.02 L689.70 298.98 L689.21 300.94 L688.72 302.90 M681.09 336.20 L680.68 338.16 L680.27 340.12 L679.86 342.08 L679.46 344.04 L679.06 346.00" fill="none" stroke="#000" stroke-width="2"/>
<path d="M901.61 34.50 L897.75 36.46 L893.99 38.42 L890.33 40.38 L886.76 42.34 L883.28 44.30 L879.88 46.25 L876.57 48.21 L873.34 50.17 L870.19 52.13 L867.11 54.09 L864.11 56.05 L861.17 58.01 L858.30 59.97 L855.50 61.93 L852.75 63.89 L850.07 65.85 L847.45 67.81 L844.89 69.76 L842.38 71.72 L839.92 73.68 L837.52 75.64 L835.16 77.60 L832.86 79.56 L830.60 81.52 L828.38 83.48 L826.21 85.44 L824.09 87.40 L822.00 89.36 L819.96 91.31 L817.96 93.27 L815.99 95.23 L814.06 97.19 L812.17 99.15 L810.31 101.11 L808.49 103.07 L806.70 105.03 L804.94 106.99 L803.21 108.95 L801.52 110.91 L799.85 112.86 L798.21 114.82 L796.60 116.78 L795.02 118.74 L793.47 120.70 L791.94 122.66 L790.44 124.62 L788.96 126.58 L787.51 128.54 L786.08 130.50 L784.67 132.46 L783.29 134.42 L781.92 136.37 L780.58 138.33 L779.26 140.29 L777.96 142.25 L776.69 144.21 L775.43 146.17 L774.19 148.13 L772.96 150.09 L771.76 152.05 L770.57 154.01 L769.41 155.97 L768.26 157.92 L767.12 159.88 L766.00 161.84 L764.90 163.80 L763.81 165.76 L762.74 167.72 L761.69 169.68 L760.65 171.64 L759.62 173.60 L758.61 175.56 L757.61 177.52 L756.62 179.47 L755.65 181.43 L754.69 183.39 L753.74 185.35 L752.81 187.31 L751.89 189.27 L750.98 191.23 L750.08 193.19 L749.19 195.15 L748.31 197.11 L747.45 199.07 L746.60 201.03 L745.75 202.98 L744.92 204.94 L744.10 206.90 L743.29 208.86 L742.48 210.82 L741.69 212.78 L740.91 214.74 L740.13 216.70 L739.37 218.66 L738.61 220.62 L737.87 222.58 L737.13 224.53 L736.40 226.49 L735.68 228.45 L734.97 230.41 L734.26 232.37 L733.57 234.33 L732.88 236.29 L732.20 238.25 L731.52 240.21 L730.86 242.17 L730.20 244.13 L729.55 246.08 L728.90 248.04 L728.27 250.00 L727.64 251.96 L727.01 253.92 L726.39 255.88 L725.78 257.84 L725.18 259.80 L724.58 261.76 L723.99 263.72 L723.41 265.68 L722.83 267.64 L722.25 269.59 L721.69 271.55 M710.07 316.61 L709.62 318.57 L709.17 320.53 L708.73 322.49 L708.29 324.45 L707.86 326.41 L707.43 328.37 L707.00 330.33 L706.58 332.29 L706.16 334.25 L705.74 336.20 L705.33 338.16 L704.92 340.12 L704.52 342.08 L704.12 344.04 L703.72 346.00" fill="none" stroke="#000" stroke-width="2"/>
</g>
<text class="tl" transform="translate(774.7,57.0) rotate(-33.2) translate(-26.00,6.40) scale(1.023,1)" style="font-size:18px;stroke:#e8f2fc;stroke-width:0.45px;fill:#3c3c3c">99.7%</text>
<text class="tl" transform="translate(813.9,55.1) rotate(-32.2) translate(-18.00,6.40) scale(1.005,1)" style="font-size:18px;stroke:#e8f2fc;stroke-width:0.45px;fill:#3c3c3c">68%</text>
<text class="tl" transform="translate(684.9,319.6) rotate(-77.1) translate(-17.15,6.40) scale(0.958,1)" style="font-size:18px;stroke:#e8f2fc;stroke-width:0.45px;fill:#3c3c3c">68%</text>
<text class="tl" transform="translate(715.9,294.1) rotate(-75.5) translate(-24.25,6.40) scale(0.954,1)" style="font-size:18px;stroke:#e8f2fc;stroke-width:0.45px;fill:#3c3c3c">99.7%</text>
<rect x="561.50" y="34.50" width="379.00" height="312.00" fill="none" stroke="#ccd0d5" stroke-width="1"/>
<path d="M562.00 346.20v-7.1M637.80 346.20v-7.1M713.60 346.20v-7.1M789.40 346.20v-7.1M865.20 346.20v-7.1M941.00 346.20v-7.1M561.00 65.65h7M561.00 127.95h7M561.00 190.25h7M561.00 252.55h7M561.00 314.85h7" stroke="#000" stroke-width="2" fill="none"/>
<path d="M577.16 346.20v-4.2M592.32 346.20v-4.2M607.48 346.20v-4.2M622.64 346.20v-4.2M652.96 346.20v-4.2M668.12 346.20v-4.2M683.28 346.20v-4.2M698.44 346.20v-4.2M728.76 346.20v-4.2M743.92 346.20v-4.2M759.08 346.20v-4.2M774.24 346.20v-4.2M804.56 346.20v-4.2M819.72 346.20v-4.2M834.88 346.20v-4.2M850.04 346.20v-4.2M880.36 346.20v-4.2M895.52 346.20v-4.2M910.68 346.20v-4.2M925.84 346.20v-4.2M561.00 40.73h5.3M561.00 53.19h5.3M561.00 78.11h5.3M561.00 90.57h5.3M561.00 103.03h5.3M561.00 115.49h5.3M561.00 140.41h5.3M561.00 152.87h5.3M561.00 165.33h5.3M561.00 177.79h5.3M561.00 202.71h5.3M561.00 215.17h5.3M561.00 227.63h5.3M561.00 240.09h5.3M561.00 265.01h5.3M561.00 277.47h5.3M561.00 289.93h5.3M561.00 302.39h5.3M561.00 327.31h5.3M561.00 339.77h5.3" stroke="#000" stroke-width="1.6" fill="none"/>
<text class="tl" transform="translate(539.30,375.40) scale(1.100,1)" textLength="40.27" lengthAdjust="spacing">0.60</text>
<text class="tl" transform="translate(615.10,375.40) scale(1.100,1)" textLength="40.27" lengthAdjust="spacing">0.65</text>
<text class="tl" transform="translate(690.90,375.40) scale(1.100,1)" textLength="40.27" lengthAdjust="spacing">0.70</text>
<text class="tl" transform="translate(766.70,375.40) scale(1.100,1)" textLength="40.27" lengthAdjust="spacing">0.75</text>
<text class="tl" transform="translate(842.50,375.40) scale(1.100,1)" textLength="40.27" lengthAdjust="spacing">0.80</text>
<text class="tl" transform="translate(918.30,375.40) scale(1.100,1)" textLength="40.27" lengthAdjust="spacing">0.85</text>
<text class="tl" transform="translate(520.60,74.05) scale(1.100,1)" textLength="31.82" lengthAdjust="spacing">0.6</text>
<path d="M509.2 67.55h11.7" stroke="#4a4a4a" stroke-width="1" fill="none"/>
<text class="tl" transform="translate(520.60,136.35) scale(1.100,1)" textLength="31.82" lengthAdjust="spacing">0.8</text>
<path d="M509.2 129.85h11.7" stroke="#4a4a4a" stroke-width="1" fill="none"/>
<text class="tl" transform="translate(520.60,198.65) scale(1.100,1)" textLength="31.82" lengthAdjust="spacing">1.0</text>
<path d="M509.2 192.15h11.7" stroke="#4a4a4a" stroke-width="1" fill="none"/>
<text class="tl" transform="translate(520.60,260.95) scale(1.100,1)" textLength="31.82" lengthAdjust="spacing">1.2</text>
<path d="M509.2 254.45h11.7" stroke="#4a4a4a" stroke-width="1" fill="none"/>
<text class="tl" transform="translate(520.60,323.25) scale(1.100,1)" textLength="31.82" lengthAdjust="spacing">1.4</text>
<path d="M509.2 316.75h11.7" stroke="#4a4a4a" stroke-width="1" fill="none"/>
<rect x="712.8" y="180.9" width="5.4" height="5.4" fill="#111"/>
<text class="sl" transform="translate(584.30,66.00) scale(1.000,1)" style="font-size:24px;">(</text>
<text class="sl" transform="translate(594.00,65.90) scale(1.080,1)" style="font-size:21.5px;">b</text>
<text class="sl" transform="translate(606.00,66.00) scale(1.000,1)" style="font-size:24px;">)</text>
<text class="sl" transform="translate(737.90,400.30) scale(0.840,1)" style="font-size:21.5px;">&#937;</text>
<text class="ss" transform="translate(751.50,402.80) scale(0.930,1)" style="font-size:10.2px;">DE</text>
<text class="sl" transform="translate(490.2,201.0) rotate(-90) translate(0.00,0.00) scale(1.000,1)" style="font-size:22px;">&#969;</text>
<text class="ss" transform="translate(490.2,201.0) rotate(-90) translate(14.40,2.90) scale(1.000,1)" style="font-size:10.5px;font-family:&quot;Liberation Sans&quot;,sans-serif">0</text>
</g>
</svg></body></html>
